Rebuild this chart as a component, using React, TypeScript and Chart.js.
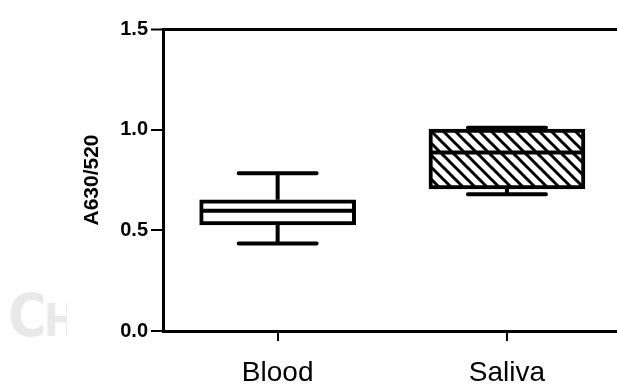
import React, { useEffect, useRef } from 'react';
import { Chart, registerables } from 'chart.js';

Chart.register(...registerables);

// ---- data ----
const categories = ['Blood', 'Saliva'];
const positions = [1, 2];
const whiskerMin = [0.435, 0.679];
const q1 = [0.527, 0.706];
const median = [0.597, 0.886];
const q3 = [0.652, 1.003];
const whiskerMax = [0.784, 1.01];
const yTicks = [0, 0.5, 1.0, 1.5];
const yTitle = 'A630/520';

function makeHatch(): CanvasPattern | string {
  const c = document.createElement('canvas');
  const s = 12;
  c.width = s;
  c.height = s;
  const g = c.getContext('2d');
  if (!g) return '#fff';
  g.fillStyle = '#fff';
  g.fillRect(0, 0, s, s);
  g.strokeStyle = '#000';
  g.lineWidth = 3;
  g.beginPath();
  g.moveTo(-s, -s);
  g.lineTo(2 * s, 2 * s);
  g.moveTo(0, -s);
  g.lineTo(2 * s, s);
  g.moveTo(-s, 0);
  g.lineTo(s, 2 * s);
  g.stroke();
  const p = g.createPattern(c, 'repeat');
  return p || '#fff';
}

const boxExtras = {
  id: 'boxExtras',
  beforeDraw(chart: any) {
    const { ctx } = chart;
    ctx.save();
    ctx.beginPath();
    ctx.rect(0, 0, 67, 385);
    ctx.clip();
    ctx.fillStyle = '#e9e9e9';
    ctx.textBaseline = 'alphabetic';
    ctx.font = 'bold 58px "DejaVu Sans Condensed"';
    ctx.fillText('C', 8, 336);
    ctx.font = 'bold 44px "DejaVu Sans Condensed"';
    ctx.fillText('HU', 44, 336);
    ctx.restore();
  },
  beforeDatasetsDraw(chart: any) {
    const { ctx, scales } = chart;
    const y = scales.y;
    const meta = chart.getDatasetMeta(0);
    ctx.save();
    ctx.strokeStyle = '#000';
    ctx.lineWidth = 4;
    meta.data.forEach((el: any, i: number) => {
      const { x } = el.getProps(['x'], true);
      ctx.beginPath();
      ctx.moveTo(x, y.getPixelForValue(whiskerMin[i]));
      ctx.lineTo(x, y.getPixelForValue(q1[i]));
      ctx.moveTo(x, y.getPixelForValue(q3[i]));
      ctx.lineTo(x, y.getPixelForValue(whiskerMax[i]));
      ctx.stroke();
    });
    ctx.restore();
  },
  afterDatasetsDraw(chart: any) {
    const { ctx, scales } = chart;
    const y = scales.y;
    const meta = chart.getDatasetMeta(0);
    ctx.save();
    ctx.strokeStyle = '#000';
    ctx.lineWidth = 4;
    meta.data.forEach((el: any, i: number) => {
      const { x, width } = el.getProps(['x', 'width'], true);
      const half = width / 2;
      const cap = width / 4;
      ctx.lineCap = 'round';
      ctx.beginPath();
      ctx.moveTo(x - cap, y.getPixelForValue(whiskerMin[i]));
      ctx.lineTo(x + cap, y.getPixelForValue(whiskerMin[i]));
      ctx.moveTo(x - cap, y.getPixelForValue(whiskerMax[i]));
      ctx.lineTo(x + cap, y.getPixelForValue(whiskerMax[i]));
      ctx.stroke();
      ctx.lineCap = 'butt';
      ctx.beginPath();
      ctx.moveTo(x - half + 2, y.getPixelForValue(median[i]));
      ctx.lineTo(x + half - 2, y.getPixelForValue(median[i]));
      ctx.stroke();
    });
    ctx.restore();
  },
};

export default function App() {
  const ref = useRef<HTMLCanvasElement>(null);
  useEffect(() => {
    if (!ref.current) return;
    const hatch = makeHatch();
    const chart = new Chart(ref.current, {
      type: 'bar',
      data: {
        datasets: [
          {
            data: positions.map((p, i) => ({ x: p, y: [q1[i], q3[i]] })) as any,
            backgroundColor: ['#ffffff', hatch] as any,
            borderColor: '#000',
            borderWidth: 4,
            borderSkipped: false,
            barThickness: 156,
          },
        ],
      },
      options: {
        animation: false,
        responsive: false,
        maintainAspectRatio: false,
        layout: { padding: { left: 0, top: 29, right: 0, bottom: 0 } },
        plugins: { legend: { display: false }, tooltip: { enabled: false } },
        scales: {
          x: {
            type: 'linear',
            offset: false,
            min: 0.5,
            max: 2.48,
            afterBuildTicks: (s: any) => {
              s.ticks = positions.map((v) => ({ value: v }));
            },
            ticks: {
              callback: (v: any) => categories[positions.indexOf(Number(v))] ?? '',
              font: { family: 'Liberation Sans', size: 28 },
              color: '#000',
              padding: 15,
              maxRotation: 0,
              autoSkip: false,
            },
            grid: {
              display: true,
              offset: false,
              drawOnChartArea: false,
              drawTicks: true,
              tickLength: 10,
              color: '#000',
              lineWidth: 2,
            },
            border: { display: true, color: '#000', width: 3 },
            afterFit: (s: any) => {
              s.height = 54;
            },
          },
          y: {
            type: 'linear',
            min: 0,
            max: 1.5,
            afterBuildTicks: (s: any) => {
              s.ticks = yTicks.map((v) => ({ value: v }));
            },
            ticks: {
              callback: (v: any) => Number(v).toFixed(1),
              font: { family: 'Liberation Sans', size: 20, weight: 'bold' },
              color: '#000',
              padding: 3,
            },
            grid: {
              drawOnChartArea: true,
              drawTicks: true,
              tickLength: 12,
              color: (c: any) => (c.tick && c.tick.value === 1.5 ? '#000' : 'rgba(0,0,0,0)'),
              lineWidth: (c: any) => (c.tick && c.tick.value === 1.5 ? 3 : 2),
              tickColor: '#000',
              tickWidth: 2,
            },
            border: { display: true, color: '#000', width: 3 },
            title: {
              display: true,
              text: yTitle,
              font: { family: 'Liberation Sans', size: 21, weight: 'bold' },
              color: '#000',
              padding: { top: 80, bottom: 0 },
            },
            afterFit: (s: any) => {
              s.width = 163;
            },
          },
        },
      } as any,
      plugins: [boxExtras],
    });
    return () => chart.destroy();
  }, []);
  return (
    <div style={{ position: 'fixed', left: 0, top: 0, width: 617, height: 385, background: '#fff' }}>
      <canvas ref={ref} width={617} height={385} style={{ display: 'block' }} />
    </div>
  );
}
